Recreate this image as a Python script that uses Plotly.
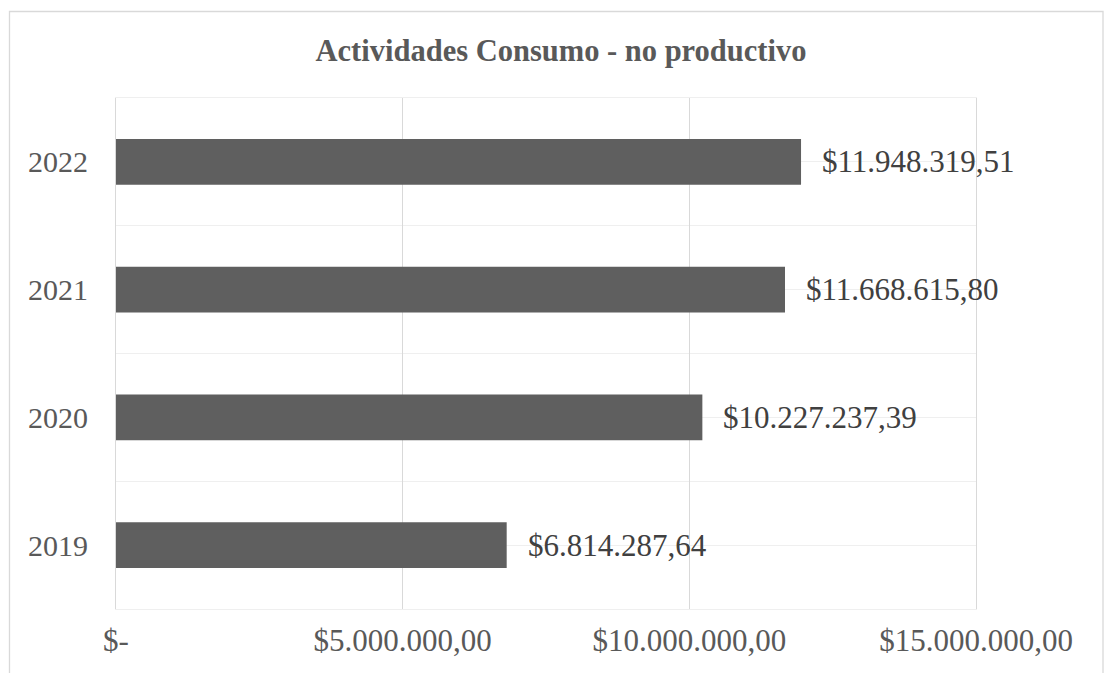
import plotly.graph_objects as go

years = ["2019", "2020", "2021", "2022"]
values = [6814287.64, 10227237.39, 11668615.80, 11948319.51]
value_labels = ["$6.814.287,64", "$10.227.237,39", "$11.668.615,80", "$11.948.319,51"]
x_tickvals = [0, 5000000, 10000000, 15000000]
x_ticktext = ["$-", "$5.000.000,00", "$10.000.000,00", "$15.000.000,00"]
title_text = "Actividades Consumo - no productivo"

FONT = "Liberation Serif, Times New Roman, serif"
positions = list(range(len(years)))

fig = go.Figure()
fig.add_trace(go.Bar(
    x=values, y=positions, orientation="h",
    marker=dict(color="#5f5f5f", line=dict(width=0)),
    width=0.36, hoverinfo="skip",
))

for v, p, t in zip(values, positions, value_labels):
    fig.add_annotation(x=v, y=p, text=t, showarrow=False, xanchor="left",
                       yanchor="middle", xshift=19,
                       font=dict(family=FONT, size=31, color="#404040"))

W, H = 1104, 673
L, R, T, B = 116, 976, 98, 609
pw, ph = R - L, B - T

fig.add_shape(type="rect", xref="paper", yref="paper",
              x0=(9.5 - L) / pw, x1=(1103 - L) / pw,
              y0=(B - 700) / ph, y1=(B - 11.5) / ph,
              line=dict(color="#d9d9d9", width=1.3), fillcolor="rgba(0,0,0,0)",
              layer="below")

fig.update_layout(
    width=W, height=H,
    margin=dict(l=L, r=W - R, t=T, b=H - B, pad=0),
    paper_bgcolor="white", plot_bgcolor="white",
    showlegend=False,
    title=dict(text="<b>" + title_text + "</b>", x=561 / W, xanchor="center",
               y=1 - 50 / H, yanchor="middle", xref="container", yref="container",
               font=dict(family=FONT, size=30.5, color="#595959"), automargin=False),
    xaxis=dict(range=[0, 15000000], tickvals=x_tickvals, ticktext=x_ticktext,
               showgrid=True, gridcolor="#d9d9d9", gridwidth=1,
               zeroline=False, showline=True, linecolor="#efefef", linewidth=1,
               mirror=True, ticks="", automargin=False,
               ticklabelstandoff=4,
               tickfont=dict(family=FONT, size=31, color="#595959"),
               fixedrange=True),
    yaxis=dict(range=[-0.5, len(years) - 0.5], tickvals=positions, ticktext=years,
               showgrid=True, gridcolor="#efefef", gridwidth=1,
               minor=dict(tick0=-0.5, dtick=0.5, showgrid=True, gridcolor="#efefef", gridwidth=1),
               zeroline=False, showline=True, linecolor="#d9d9d9", linewidth=1,
               mirror=True, ticks="", automargin=False,
               ticklabelstandoff=21,
               tickfont=dict(family=FONT, size=30, color="#595959"),
               fixedrange=True),
)

fig.write_html("out.html", config={"displayModeBar": False})
